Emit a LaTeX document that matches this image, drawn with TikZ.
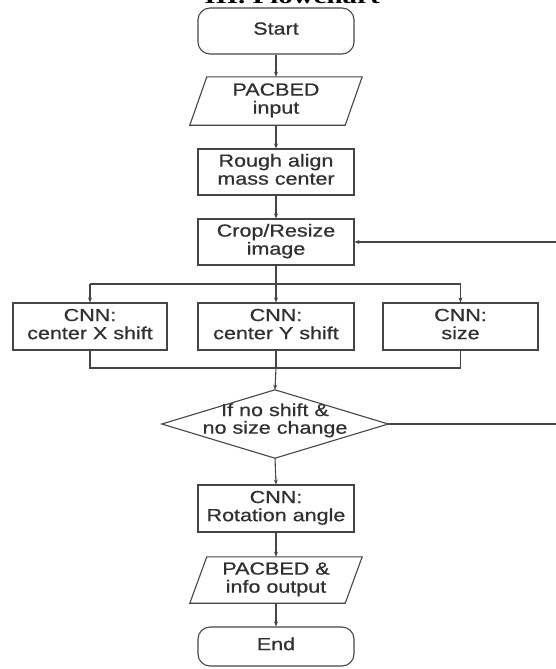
\documentclass[tikz,border=0pt]{standalone}
\usepackage{fontspec}
\usepackage{graphicx}
\setmainfont[FakeBold=0.6]{Liberation Sans}
\newfontfamily\titlefont{Liberation Serif}
\usetikzlibrary{arrows.meta}
\definecolor{ln}{HTML}{454545}
\definecolor{tx}{HTML}{303030}
\newcommand{\sx}[2][18]{\scalebox{1.23}[1]{\fontsize{17.5}{#1}\selectfont\begin{tabular}{@{}c@{}}#2\end{tabular}}}
\tikzset{
  box/.style={draw=ln, line width=1.1pt, rectangle, inner sep=0pt, text=tx, minimum width=156pt, minimum height=46pt},
  term/.style={box, rounded corners=12pt},
  para/.style={rectangle, inner sep=0pt, text=tx, minimum width=172pt},
  decbox/.style={rectangle, inner sep=0pt, text=tx, minimum width=226pt, minimum height=68pt},
  shp/.style={draw=ln, line width=1.1pt, line join=miter},
  conn/.style={draw=ln, line width=1.1pt},
  arr/.style={conn, -{Stealth[length=5pt,width=4pt]}}
}
\begin{document}
\begin{tikzpicture}[x=1pt,y=-1pt]
\useasboundingbox (0,0) rectangle (555,669);
\node[anchor=base, inner sep=0pt] (title) at (292,4) {\scalebox{1.38}[1]{\titlefont\bfseries\fontsize{21}{21}\selectfont III. Flowchart}};
\node[term, minimum height=46pt] (start) at (276,31) {\sx{Start}};
\node[para, minimum height=48pt] (in) at (276,101) {\sx{PACBED\\input}};
\draw[shp] ([xshift=17pt]in.north west) -- (in.north east) -- ([xshift=-17pt]in.south east) -- (in.south west) -- cycle;
\node[box] (rough) at (276,172) {\sx{Rough align\\mass center}};
\node[box] (crop) at (276,242) {\sx{Crop/Resize\\image}};
\node[box, minimum width=154pt, minimum height=47pt] (cx) at (90,326.5) {\sx{CNN:\\center X shift}};
\node[box, minimum height=47pt] (cy) at (276,326.5) {\sx{CNN:\\center Y shift}};
\node[box, minimum width=155pt, minimum height=47pt] (cs) at (460.5,326.5) {\sx{CNN:\\size}};
\node[decbox] (dec) at (275,424) {};
\node[text=tx, inner sep=0pt] (dect) at (275,421) {\sx[16.5]{If no shift \&\\no size change}};
\draw[shp] (dec.north) -- (dec.east) -- (dec.south) -- (dec.west) -- cycle;
\node[box, minimum height=47pt] (rot) at (276,508.5) {\sx{CNN:\\Rotation angle}};
\node[para, minimum height=46pt] (out) at (276,580) {\sx{PACBED \&\\info output}};
\draw[shp] ([xshift=17pt]out.north west) -- (out.north east) -- ([xshift=-17pt]out.south east) -- (out.south west) -- cycle;
\node[term, minimum height=39pt] (end) at (276,646.5) {\sx{End}};
\coordinate (split) at (276,284);
\coordinate (merge) at (276,368);
\coordinate (fb) at (560,330);
\draw[arr] (start.south) -- (in.north);
\draw[arr] (in.south) -- (rough.north);
\draw[arr] (rough.south) -- (crop.north);
\draw[conn] (crop.south) -- (split);
\draw[conn] (split -| cx.north) -- (split -| cs.north);
\draw[arr] (split -| cx.north) -- (cx.north);
\draw[arr] (split) -- (cy.north);
\draw[arr] (split -| cs.north) -- (cs.north);
\draw[conn] (cx.south) -- (merge -| cx.south) -- (merge -| cs.south) -- (cs.south);
\draw[conn] (cy.south) -- (merge);
\draw[arr] (merge) -- (dec.north);
\draw[arr] (dec.east) -- (dec.east -| fb) -- (crop.east -| fb) -- (crop.east);
\draw[arr] (dec.south) -- (rot.north);
\draw[arr] (rot.south) -- (out.north);
\draw[arr] (out.south) -- (end.north);
\end{tikzpicture}
\end{document}
